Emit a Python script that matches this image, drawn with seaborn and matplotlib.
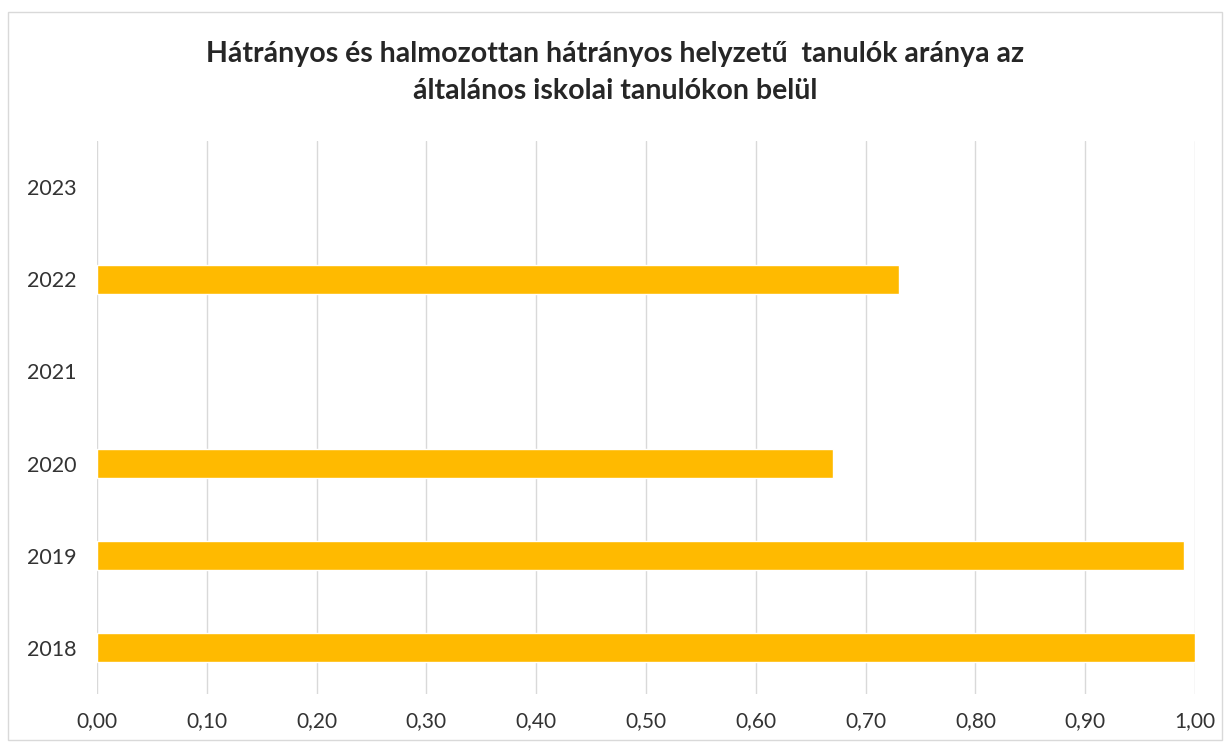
import numpy as np
import pandas as pd
import matplotlib
matplotlib.use("Agg")
import matplotlib.pyplot as plt
import seaborn as sns
from matplotlib.patches import Rectangle

years = ["2023", "2022", "2021", "2020", "2019", "2018"]
values = [np.nan, 0.73, np.nan, 0.67, 0.99, 1.00]
xticks = [0.0, 0.1, 0.2, 0.3, 0.4, 0.5, 0.6, 0.7, 0.8, 0.9, 1.0]
xtick_labels = ["0,00", "0,10", "0,20", "0,30", "0,40", "0,50", "0,60", "0,70", "0,80", "0,90", "1,00"]
title = "Hátrányos és halmozottan hátrányos helyzetű  tanulók aránya az\náltalános iskolai tanulókon belül"

sns.set_theme(style="white")
plt.rcParams["font.family"] = ["Lato", "DejaVu Sans"]

df = pd.DataFrame({"year": years, "value": values})

fig = plt.figure(figsize=(12.31, 7.48), dpi=100)
ax = fig.add_axes([0.0788, 0.0722, 0.8920, 0.7393])

sns.barplot(data=df, y="year", x="value", order=years, color="#FFBA00",
            saturation=1, width=0.315, ax=ax, orient="h")

ax.set_xlim(0, 1.0)
ax.set_xticks(xticks)
ax.set_xticklabels(xtick_labels)
ax.grid(axis="x", color="#D9D9D9", linewidth=1)
ax.set_axisbelow(True)
for s in ax.spines.values():
    s.set_visible(False)
ax.set_xlabel("")
ax.set_ylabel("")
ax.tick_params(axis="x", length=0, pad=12, labelsize=15, colors="#333333")
ax.tick_params(axis="y", length=0, pad=15, labelsize=15.5, colors="#333333")

fig.text(0.5, 0.903, title, ha="center", va="center", fontsize=20.5,
         fontweight="bold", color="#262626", linespacing=1.55)

fig.patches.append(Rectangle((8/1231, 1 - 740/748), 1214/1231, 728/748,
                             transform=fig.transFigure, fill=False,
                             edgecolor="#D9D9D9", linewidth=1))

fig.savefig("out.png", dpi=100)
